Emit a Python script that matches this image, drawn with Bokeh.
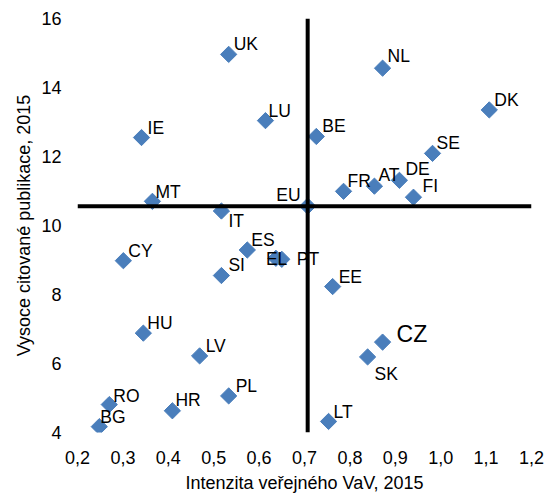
from bokeh.plotting import figure
from bokeh.models import ColumnDataSource, FixedTicker, Span
from bokeh.core.properties import value
from bokeh.embed import file_html
from bokeh.resources import INLINE
import math

# ---- data ----
countries = ["UK", "IE", "LU", "MT", "IT", "NL", "DK", "BE", "SE", "FR", "AT", "DE", "FI",
             "EU", "ES", "EL", "PT", "SI", "CY", "HU", "LV", "PL", "HR", "RO", "BG", "EE",
             "CZ", "SK", "LT"]
intensity = [0.533, 0.341, 0.614, 0.365, 0.517, 0.872, 1.107, 0.726, 0.982, 0.786, 0.854, 0.909, 0.940,
             0.707, 0.574, 0.637, 0.650, 0.517, 0.301, 0.345, 0.469, 0.533, 0.409, 0.270, 0.248, 0.762,
             0.872, 0.839, 0.753]
publications = [14.96, 12.55, 13.04, 10.70, 10.42, 14.56, 13.35, 12.58, 12.09, 10.99, 11.14, 11.31, 10.82,
                10.56, 9.29, 9.05, 9.02, 8.55, 8.98, 6.88, 6.22, 5.06, 4.63, 4.81, 4.17, 8.23,
                6.62, 6.19, 4.32]
eu_intensity = 0.707
eu_publications = 10.56

x_ticks = [0.2, 0.3, 0.4, 0.5, 0.6, 0.7, 0.8, 0.9, 1.0, 1.1, 1.2]
x_tick_labels = ["0,2", "0,3", "0,4", "0,5", "0,6", "0,7", "0,8", "0,9", "1,0", "1,1", "1,2"]
y_ticks = [4, 6, 8, 10, 12, 14, 16]
y_tick_labels = ["4", "6", "8", "10", "12", "14", "16"]

x_title = "Intenzita veřejného VaV, 2015"
y_title = "Vysoce citované publikace, 2015"

# ---- label placement (pixels, screen: +dy up) ----
label_dx = [5, 6, 3, 3, 7, 5, 5, 6, 4, 4, 4, 6, 9,
            -7, 4, -10, 15, 7, 5, 4, 6, 7, 3, 4, 1, 6,
            14, 7, 5]
label_dy = [10, 10, 10, 9, -10, 12, 10, 10, 10, 10, 11, 11, 11,
            11, 10, -1, 0, 11, 10, 10, 10, 10, 11, 9, 10, 10,
            8, -17, 9]
label_align = ["left"] * len(countries)
label_align[countries.index("EU")] = "right"
label_size = ["17.5px"] * len(countries)
label_size[countries.index("CZ")] = "23px"

src = ColumnDataSource(dict(
    x=intensity, y=publications, name=countries,
    dx=label_dx, dy=[-d for d in label_dy],
    align=label_align, size=label_size,
))

p = figure(width=548, height=495, output_backend="svg", toolbar_location=None,
           x_range=(0.2, 1.2), y_range=(4, 16),
           min_border_left=77, min_border_right=17, min_border_top=18, min_border_bottom=60)
p.outline_line_color = None
p.xgrid.visible = False
p.ygrid.visible = False
p.background_fill_color = "white"
p.border_fill_color = "white"

FONT = "Liberation Sans"

for ax, ticks, labels in ((p.xaxis[0], x_ticks, x_tick_labels), (p.yaxis[0], y_ticks, y_tick_labels)):
    ax.ticker = FixedTicker(ticks=ticks)
    ax.major_label_overrides = {t: l for t, l in zip(ticks, labels)}
    ax.axis_line_color = None
    ax.major_tick_line_color = None
    ax.minor_tick_line_color = None
    ax.major_label_text_font = FONT
    ax.major_label_text_font_size = "18px"
    ax.major_label_text_color = "black"
    ax.axis_label_text_font = FONT
    ax.axis_label_text_font_size = "18px"
    ax.axis_label_text_font_style = "normal"
    ax.axis_label_text_color = "black"

p.xaxis.axis_label = x_title
p.yaxis.axis_label = y_title
p.xaxis.major_label_standoff = 12
p.xaxis.axis_label_standoff = 6
p.yaxis.major_label_standoff = 10
p.yaxis.axis_label_standoff = 4

# EU average lines
p.add_layout(Span(location=eu_publications, dimension="width", line_color="black", line_width=4))
p.add_layout(Span(location=eu_intensity, dimension="height", line_color="black", line_width=4))

p.scatter(x="x", y="y", source=src, marker="square", size=11.5, angle=math.pi / 4,
          fill_color="#4A7EBB", line_color="#4A7EBB")

p.text(x="x", y="y", text="name", source=src, x_offset="dx", y_offset="dy",
       text_align="align", text_baseline="middle", text_font=value(FONT),
       text_font_size="size", text_color="black")

open("out.html", "w").write(file_html(p, INLINE))
